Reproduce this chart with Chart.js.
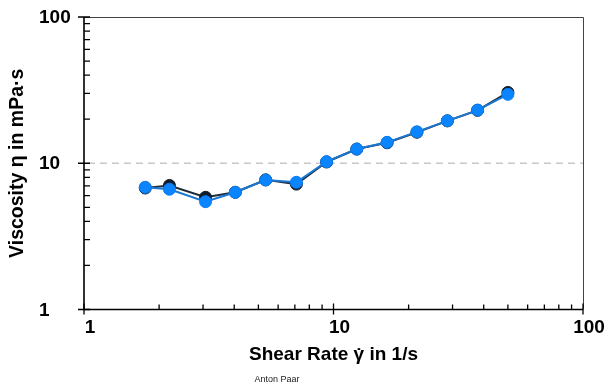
<!DOCTYPE html>
<html>
<head>
<meta charset="utf-8">
<script src="https://cdn.jsdelivr.net/npm/chart.js@4/dist/chart.umd.min.js"></script>
<style>
  html, body { margin: 0; padding: 0; background: #fff; }
  canvas { display: block; }
</style>
</head>
<body>
<canvas id="chart" width="609" height="385"></canvas>
<script>
// shear rate values (1/s)
const shearRate = [1.76, 2.2, 3.07, 4.04, 5.35, 7.1, 9.38, 12.4, 16.4, 21.6, 28.6, 37.8, 50];
// viscosity of the two runs (mPa·s)
const viscosityBlue = [6.85, 6.64, 5.46, 6.33, 7.68, 7.41, 10.25, 12.5, 13.9, 16.4, 19.5, 23.1, 29.6];
const viscosityDark = [6.77, 7.05, 5.85, 6.33, 7.7, 7.2, 10.2, 12.5, 13.8, 16.3, 19.5, 23.0, 30.5];

const majorTicks = [1, 10, 100];
const tickLabels = ['1', '10', '100'];
const minorTicks = [2, 3, 4, 5, 6, 7, 8, 9, 20, 30, 40, 50, 60, 70, 80, 90];

const FONT = '"Liberation Sans", Arial, sans-serif';
const toPoints = (ys) => shearRate.map((x, i) => ({ x: x, y: ys[i] }));

// dashed line at 10 mPa·s, drawn under the data
const gridPlugin = {
  id: 'dashedGrid',
  beforeDatasetsDraw(chart) {
    const ctx = chart.ctx;
    const { left, right } = chart.chartArea;
    const y = chart.scales.y.getPixelForValue(10);
    ctx.save();
    ctx.strokeStyle = '#c8c8c8';
    ctx.lineWidth = 1.3;
    ctx.setLineDash([7, 5]);
    ctx.beginPath();
    ctx.moveTo(left + 4, y);
    ctx.lineTo(right, y);
    ctx.stroke();
    ctx.restore();
  }
};

// axes with inward ticks, frame, tick labels, x title and the footer text
const axesPlugin = {
  id: 'axesFrame',
  afterDraw(chart) {
    const ctx = chart.ctx;
    const { left, right, top, bottom } = chart.chartArea;
    const xs = chart.scales.x, ys = chart.scales.y;
    ctx.save();

    // top + right frame
    ctx.strokeStyle = '#444';
    ctx.lineWidth = 1;
    ctx.beginPath();
    ctx.moveTo(left, top + 0.5);
    ctx.lineTo(right + 0.5, top + 0.5);
    ctx.lineTo(right + 0.5, bottom);
    ctx.stroke();

    // left + bottom axes
    ctx.strokeStyle = '#000';
    ctx.lineWidth = 1.6;
    ctx.beginPath();
    ctx.moveTo(left, top);
    ctx.lineTo(left, bottom);
    ctx.lineTo(right, bottom);
    ctx.stroke();

    ctx.lineWidth = 1.3;
    ctx.beginPath();
    minorTicks.forEach(v => {
      const py = ys.getPixelForValue(v);
      ctx.moveTo(left, py); ctx.lineTo(left + 6, py);
      const px = xs.getPixelForValue(v);
      ctx.moveTo(px, bottom); ctx.lineTo(px, bottom - 5);
    });
    majorTicks.forEach(v => {
      const py = ys.getPixelForValue(v);
      ctx.moveTo(left - 6, py); ctx.lineTo(left + 6, py);
      const px = xs.getPixelForValue(v);
      ctx.moveTo(px, bottom + 5); ctx.lineTo(px, bottom - 6);
    });
    ctx.stroke();

    // tick labels
    ctx.fillStyle = '#000';
    ctx.font = 'bold 19px ' + FONT;
    ctx.textBaseline = 'middle';
    majorTicks.forEach((v, i) => {
      ctx.textAlign = 'left';
      ctx.fillText(tickLabels[i], 39, ys.getPixelForValue(v) + 1);
      ctx.textAlign = 'center';
      ctx.fillText(tickLabels[i], xs.getPixelForValue(v) + 6, bottom + 18);
    });

    // x title, with the dot placed over the gamma
    const pre = 'Shear Rate ', gam = '\u03B3', post = ' in 1/s';
    ctx.font = 'bold 19px ' + FONT;
    ctx.textAlign = 'left';
    ctx.textBaseline = 'alphabetic';
    const wPre = ctx.measureText(pre).width;
    const wGam = ctx.measureText(gam).width;
    const wAll = ctx.measureText(pre + gam + post).width;
    const x0 = (left + right) / 2 - wAll / 2;
    const base = 360;
    ctx.fillText(pre + gam + post, x0, base);
    ctx.textAlign = 'center';
    ctx.fillText('\u02D9', x0 + wPre + wGam / 2, base + 2);

    ctx.font = '9px ' + FONT;
    ctx.fillStyle = '#222';
    ctx.textAlign = 'center';
    ctx.fillText('Anton Paar', 277, 382);
    ctx.restore();
  }
};

new Chart(document.getElementById('chart'), {
  type: 'scatter',
  data: {
    datasets: [
      {
        label: 'blue',
        data: toPoints(viscosityBlue),
        showLine: true,
        borderColor: '#1a78d2',
        borderWidth: 2,
        backgroundColor: '#0a84ff',
        pointBackgroundColor: '#0a84ff',
        pointBorderColor: '#0a7ff2',
        pointBorderWidth: 1,
        pointRadius: 6
      },
      {
        label: 'dark',
        data: toPoints(viscosityDark),
        showLine: true,
        borderColor: '#1d2b3a',
        borderWidth: 2,
        backgroundColor: '#101c2a',
        pointBackgroundColor: '#101c2a',
        pointBorderColor: '#101c2a',
        pointBorderWidth: 1,
        pointRadius: 6
      }
    ]
  },
  options: {
    responsive: false,
    devicePixelRatio: 1,
    animation: false,
    layout: { padding: { left: 0, right: 26, top: 17, bottom: 0 } },
    plugins: {
      legend: { display: false },
      tooltip: { enabled: false }
    },
    scales: {
      x: {
        type: 'logarithmic',
        min: 1,
        max: 100,
        grid: { display: false },
        border: { display: false },
        ticks: { display: false },
        afterFit(scale) { scale.height = 75.5; }
      },
      y: {
        type: 'logarithmic',
        min: 1,
        max: 100,
        grid: { display: false },
        border: { display: false },
        ticks: { display: false },
        title: {
          display: true,
          text: 'Viscosity \u03B7 in mPa\u00B7s',
          color: '#000',
          font: { family: FONT, size: 19.5, weight: 'bold' },
          padding: { top: 6, bottom: 0 }
        },
        afterFit(scale) { scale.width = 84; }
      }
    }
  },
  plugins: [gridPlugin, axesPlugin]
});
</script>
</body>
</html>
